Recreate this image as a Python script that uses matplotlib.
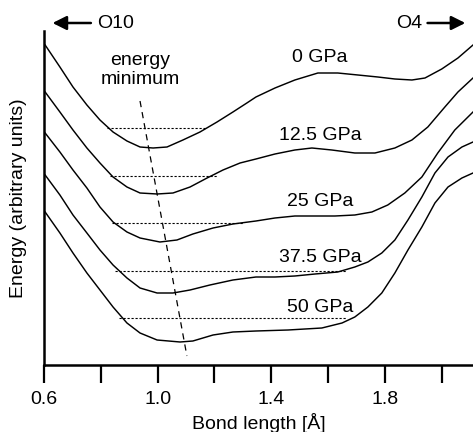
import numpy as np
import matplotlib
matplotlib.use("Agg")
import matplotlib.pyplot as plt

plt.rcParams['font.family'] = ['Liberation Sans', 'DejaVu Sans']
plt.rcParams['font.size'] = 14

# bond length (Angstrom) and energy (arbitrary units)
x_0 = [0.604, 0.656, 0.702, 0.751, 0.797, 0.843, 0.892, 0.938, 0.984, 1.033, 1.089,
       1.149, 1.209, 1.265, 1.314, 1.346, 1.413, 1.483, 1.564, 1.634, 1.705, 1.775,
       1.835, 1.895, 1.941, 2.000, 2.057, 2.110]
e_0 = [320, 298, 278, 260, 245, 233, 224, 218, 217, 218, 225,
       233, 243, 253, 262, 268, 277, 285, 292, 292, 290, 288,
       286, 285, 287, 296, 307, 320]

x_12 = [0.604, 0.656, 0.702, 0.751, 0.797, 0.843, 0.892, 0.938, 0.998, 1.054, 1.114,
        1.174, 1.230, 1.290, 1.346, 1.413, 1.483, 1.543, 1.613, 1.694, 1.765, 1.835,
        1.895, 1.951, 2.011, 2.057, 2.110]
e_12 = [273, 253, 235, 217, 202, 188, 178, 172, 171, 172, 178,
        187, 195, 202, 206, 211, 215, 217, 215, 212, 212, 217,
        225, 238, 258, 273, 287]

x_25 = [0.604, 0.656, 0.702, 0.751, 0.797, 0.843, 0.892, 0.938, 1.008, 1.068, 1.124,
        1.195, 1.265, 1.346, 1.413, 1.483, 1.554, 1.624, 1.694, 1.754, 1.810, 1.870,
        1.930, 1.986, 2.046, 2.110]
e_25 = [232, 213, 195, 177, 158, 143, 133, 127, 123, 125, 131,
        137, 141, 144, 147, 149, 149, 149, 150, 153, 160, 172,
        188, 212, 235, 253]

x_37 = [0.604, 0.656, 0.702, 0.751, 0.797, 0.843, 0.892, 0.938, 0.998, 1.054, 1.114,
        1.184, 1.265, 1.346, 1.413, 1.483, 1.554, 1.634, 1.694, 1.740, 1.789, 1.835,
        1.881, 1.930, 1.976, 2.022, 2.071, 2.110]
e_37 = [190, 170, 150, 132, 115, 100, 87, 77, 72, 72, 75,
        80, 85, 88, 88, 89, 91, 93, 98, 103, 112, 125,
        145, 168, 192, 208, 218, 223]

x_50 = [0.604, 0.656, 0.702, 0.751, 0.797, 0.843, 0.892, 0.938, 0.998, 1.079, 1.124,
        1.195, 1.265, 1.346, 1.459, 1.578, 1.649, 1.694, 1.740, 1.789, 1.835, 1.881,
        1.930, 1.976, 2.022, 2.071, 2.110]
e_50 = [153, 132, 112, 92, 75, 58, 42, 32, 25, 23, 24,
        30, 33, 34, 35, 37, 42, 48, 58, 72, 92, 115,
        138, 162, 178, 187, 192]

pressures = ['0 GPa', '12.5 GPa', '25 GPa', '37.5 GPa', '50 GPa']
curves_x = [x_0, x_12, x_25, x_37, x_50]
curves_e = [e_0, e_12, e_25, e_37, e_50]

# dotted reference levels: energy, start and end bond length
level_e = [237, 189, 142, 94, 47]
level_x0 = [0.822, 0.832, 0.839, 0.850, 0.864]
level_x1 = [1.174, 1.209, 1.300, 1.662, 1.662]

# trend of the energy minimum
min_x = [0.938, 1.103]
min_e = [264, 9]

fig = plt.figure(figsize=(4.73, 4.32), dpi=100)
ax = fig.add_axes([44 / 473, 67 / 432, 429 / 473, 334 / 432])

for xs, es in zip(curves_x, curves_e):
    ax.plot(xs, es, color='black', lw=1.05)

ax.hlines(level_e, level_x0, level_x1, colors='black', lw=0.8,
          linestyles=(0, (2, 1.6)))
ax.plot(min_x, min_e, color='black', lw=0.9, linestyle=(0, (5, 4)))

# pressure labels
label_e = [308, 230, 163, 107, 58]
for lab, le in zip(pressures, label_e):
    ax.text(1.571, le, lab, ha='center', va='center')

ax.text(0.938, 295, 'energy\nminimum', ha='center', va='center', linespacing=1.15)

# direction arrows above the plot
ax.annotate('', xy=(0.630, 342), xytext=(0.765, 342),
            arrowprops=dict(arrowstyle='-|>,head_length=0.6,head_width=0.3',
                            color='black', lw=1.8, shrinkA=0, shrinkB=0),
            annotation_clip=False)
ax.text(0.786, 342, 'O10', ha='left', va='center', clip_on=False)
ax.annotate('', xy=(2.083, 342), xytext=(1.950, 342),
            arrowprops=dict(arrowstyle='-|>,head_length=0.6,head_width=0.3',
                            color='black', lw=1.8, shrinkA=0, shrinkB=0),
            annotation_clip=False)
ax.text(1.930, 342, 'O4', ha='right', va='center', clip_on=False)

ax.set_xlim(0.6, 2.11)
ax.set_ylim(0, 334)
ax.set_xticks(np.arange(0.6, 2.01, 0.2))
ax.set_xticklabels(['0.6', '', '1.0', '', '1.4', '', '1.8', ''])
ax.set_yticks([])
ax.tick_params(axis='x', direction='out', length=13, width=1.6, pad=6)
ax.spines['top'].set_visible(False)
ax.spines['right'].set_visible(False)
ax.spines['left'].set_linewidth(1.8)
ax.spines['bottom'].set_linewidth(1.8)

ax.set_xlabel('Bond length [Å]', labelpad=3)
ax.set_ylabel('Energy (arbitrary units)', labelpad=12)

fig.savefig('out.png', dpi=100)
